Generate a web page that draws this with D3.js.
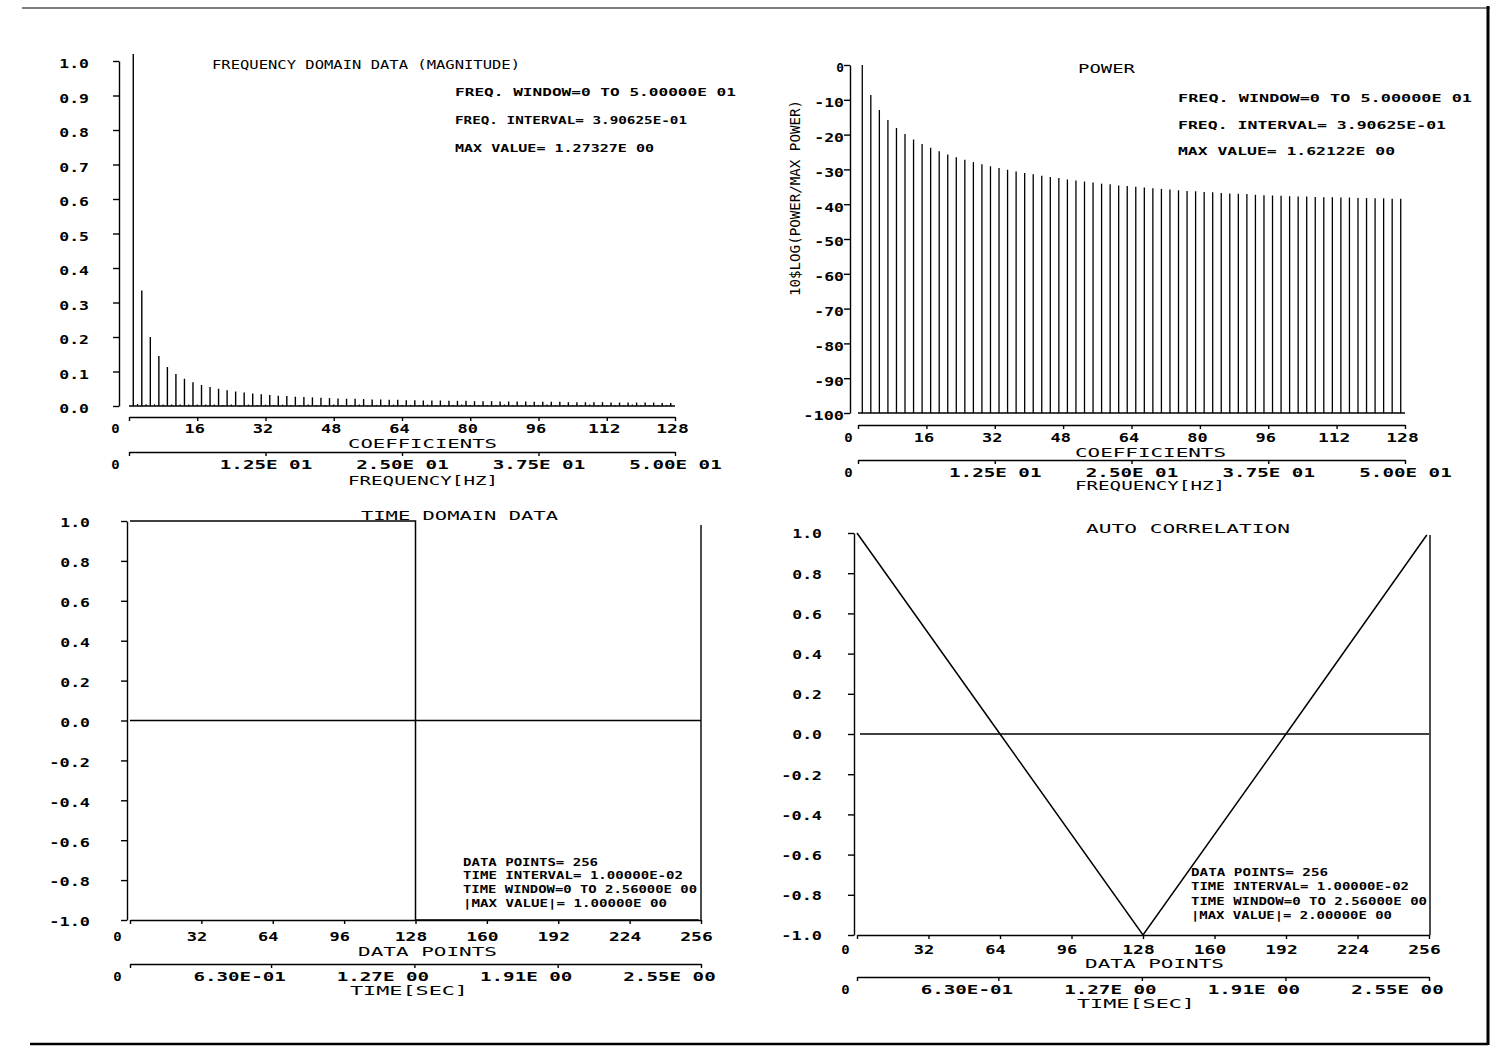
<!DOCTYPE html>
<html><head><meta charset="utf-8">
<script src="https://cdn.jsdelivr.net/npm/d3@7"></script>
<style>
body{margin:0;background:#fff}
text{font-family:"DejaVu Sans Mono","Liberation Mono",monospace;fill:#000}
</style>
</head><body><script>
// ---------------- DATA ----------------
// Frequency-domain magnitude (normalised), odd coefficients k = 1,3,...,127
const magOddK = d3.range(1, 128, 2);
const magOdd = [1.02,0.335,0.200,0.145,0.113,0.093,0.079,0.069,0.061,0.055,0.050,0.046,0.042,0.039,0.036,0.034,
                0.032,0.030,0.029,0.027,0.026,0.025,0.024,0.023,0.022,0.021,0.021,0.020,0.019,0.019,0.018,0.018,
                0.017,0.017,0.016,0.016,0.016,0.015,0.015,0.015,0.014,0.014,0.014,0.013,0.013,0.013,0.013,0.012,
                0.012,0.012,0.012,0.011,0.011,0.011,0.011,0.011,0.010,0.010,0.010,0.010,0.010,0.010,0.009,0.009];
// even coefficients k = 0,2,...,126 (near zero)
const magEvenK = d3.range(0, 128, 2);
const magEven = [0,0.006,0.005,0.005,0.004,0.004,0.004,0.004,0.004,0.004,0.004,0.003,0.004,0.003,0.004,0.003,
                 0.004,0.003,0.004,0.003,0.003,0.004,0.003,0.003,0.004,0.003,0.003,0.004,0.003,0.003,0.003,0.004,
                 0.003,0.003,0.003,0.004,0.003,0.003,0.003,0.004,0.003,0.003,0.003,0.003,0.004,0.003,0.003,0.003,
                 0.003,0.004,0.003,0.003,0.003,0.003,0.004,0.003,0.003,0.003,0.003,0.004,0.003,0.003,0.003,0.003];
// Power, 10*log(power/max power) in dB, odd coefficients
const powerDb = [0,-8.6,-12.9,-15.8,-18.1,-19.8,-21.4,-22.7,-23.8,-24.8,-25.7,-26.5,-27.2,-27.9,-28.5,-29.1,
                 -29.6,-30.1,-30.6,-31.0,-31.4,-31.8,-32.2,-32.5,-32.9,-33.2,-33.5,-33.8,-34.1,-34.3,-34.6,-34.8,
                 -35.0,-35.2,-35.4,-35.6,-35.8,-36.0,-36.2,-36.3,-36.5,-36.6,-36.8,-36.9,-37.0,-37.1,-37.3,-37.4,
                 -37.5,-37.6,-37.7,-37.8,-37.8,-37.9,-38.0,-38.0,-38.1,-38.1,-38.2,-38.2,-38.3,-38.3,-38.4,-38.4];
// Time domain square wave (step points)
const timeN = [0, 128, 255];
const timeV = [1.0, -1.0, -1.0];
// Auto correlation (vertices)
const acN = [0, 64, 128, 192, 255];
const acV = [1.0, 0.0, -1.0, 0.0, 0.99];

// ticks / labels
const magYTicks = [0,0.1,0.2,0.3,0.4,0.5,0.6,0.7,0.8,0.9,1.0];
const powYTicks = [0,-10,-20,-30,-40,-50,-60,-70,-80,-90,-100];
const timeYTicks = [1.0,0.8,0.6,0.4,0.2,0.0,-0.2,-0.4,-0.6,-0.8,-1.0];
const coefTicks = [0,16,32,48,64,80,96,112,128];
const freqTicks = [0,12.5,25,37.5,50];
const freqTickLabels = ["0","1.25E 01","2.50E 01","3.75E 01","5.00E 01"];
const pointTicks = [0,32,64,96,128,160,192,224,256];
const timeTicks = [0,0.63,1.27,1.91,2.55];
const timeTickLabels = ["0","6.30E-01","1.27E 00","1.91E 00","2.55E 00"];

const tlNotes = ["FREQ. WINDOW=0 TO 5.00000E 01","FREQ. INTERVAL= 3.90625E-01","MAX VALUE= 1.27327E 00"];
const trNotes = ["FREQ. WINDOW=0 TO 5.00000E 01","FREQ. INTERVAL= 3.90625E-01","MAX VALUE= 1.62122E 00"];
const blNotes = ["DATA POINTS= 256","TIME INTERVAL= 1.00000E-02","TIME WINDOW=0 TO 2.56000E 00","|MAX VALUE|= 1.00000E 00"];
const brNotes = ["DATA POINTS= 256","TIME INTERVAL= 1.00000E-02","TIME WINDOW=0 TO 2.56000E 00","|MAX VALUE|= 2.00000E 00"];

// ---------------- DRAW ----------------
const W = 1494, H = 1049;
const FONT = '"DejaVu Sans Mono","Liberation Mono",monospace';
const svg = d3.select("body").append("svg").attr("width", W).attr("height", H);

function fit(sel, cell) {
  sel.attr("lengthAdjust", "spacingAndGlyphs")
     .attr("textLength", function(){ const n = this.textContent.length; return n*cell - cell*0.3; });
}
function label(str, x1, x2, yc, size, weight) {
  return svg.append("text").attr("x", x1).attr("y", yc).attr("dy", "0.36em")
    .attr("font-size", size).attr("font-weight", weight || "normal")
    .attr("textLength", x2 - x1).attr("lengthAdjust", "spacingAndGlyphs").text(str);
}
function styleAxis(g) {
  g.attr("font-family", FONT).attr("font-size", 12).attr("font-weight", "bold");
  g.select(".domain").attr("stroke", "#000").attr("stroke-width", 1.4);
  g.selectAll(".tick line").attr("stroke", "#000").attr("stroke-width", 1.4);
  g.selectAll(".tick text").attr("fill", "#000");
}
function yAxis(x, scale, ticks, fmt, pad, dyPx, cell) {
  const g = svg.append("g").attr("transform", `translate(${x},0)`)
    .call(d3.axisLeft(scale).tickValues(ticks).tickFormat(fmt).tickSize(6).tickSizeOuter(0).tickPadding(pad));
  styleAxis(g);
  g.selectAll(".tick text").attr("y", dyPx);
  fit(g.selectAll(".tick text"), cell);
  return g;
}
function xAxis(y, scale, ticks, fmt, labelOff, dx, zeroX, cell) {
  const g = svg.append("g").attr("transform", `translate(0,${y})`)
    .call(d3.axisBottom(scale).tickValues(ticks).tickFormat(fmt).tickSize(4).tickSizeOuter(0).tickPadding(0));
  styleAxis(g);
  g.selectAll(".tick text").attr("y", labelOff).attr("dy", "0.36em")
    .attr("dx", (d, i) => i === 0 ? (zeroX - scale(d)) : dx);
  fit(g.selectAll(".tick text"), cell);
  return g;
}
function notes(lines, x, ys, widths, size, weight) {
  lines.forEach((s, i) => label(s, x, x + widths[i], ys[i], size, weight));
}
function hline(x1, x2, y, w) { svg.append("line").attr("x1", x1).attr("x2", x2).attr("y1", y).attr("y2", y).attr("stroke", "#000").attr("stroke-width", w || 1.4); }
function vline(x, y1, y2, w) { svg.append("line").attr("x1", x).attr("x2", x).attr("y1", y1).attr("y2", y2).attr("stroke", "#000").attr("stroke-width", w || 1.4); }

const f1 = d => d.toFixed(1);

// ===== Panel TL: magnitude =====
{
  const x = d3.scaleLinear().domain([0, 128]).range([129, 675]);
  const xf = d3.scaleLinear().domain([0, 50]).range([129, 675]);
  const y = d3.scaleLinear().domain([0, 1]).range([406, 61]);
  yAxis(119, y, magYTicks, f1, 24, 3, 11);
  hline(x(0), x(128), y(0), 1.6);
  svg.append("g").selectAll("line").data(magOddK).join("line")
    .attr("x1", d => x(d)).attr("x2", d => x(d)).attr("y1", y(0)).attr("y2", (d, i) => y(magOdd[i]))
    .attr("stroke", "#000").attr("stroke-width", 1.4);
  svg.append("g").selectAll("line").data(magEvenK).join("line")
    .attr("x1", d => x(d)).attr("x2", d => x(d)).attr("y1", y(0)).attr("y2", (d, i) => y(magEven[i]))
    .attr("stroke", "#000").attr("stroke-width", 1.2);
  xAxis(417, x, coefTicks, d => String(d), 12, -3, 115, 12);
  label("COEFFICIENTS", 348, 497, 443, 13);
  xAxis(452, xf, freqTicks, (d, i) => freqTickLabels[i], 13, 0, 115, 12);
  label("FREQUENCY[HZ]", 348, 498, 480, 13);
  label("FREQUENCY DOMAIN DATA (MAGNITUDE)", 212, 520, 64, 13);
  notes(tlNotes, 455, [92, 120, 148], [281, 232, 199], 11, "bold");
}

// ===== Panel TR: power =====
{
  const x = d3.scaleLinear().domain([0, 128]).range([858, 1405]);
  const xf = d3.scaleLinear().domain([0, 50]).range([858, 1405]);
  const y = d3.scaleLinear().domain([-100, 0]).range([413, 65]);
  yAxis(850, y, powYTicks, d => String(d), 0, 3, 11);
  hline(x(0), x(128), y(-100), 1.6);
  svg.append("g").selectAll("line").data(magOddK).join("line")
    .attr("x1", d => x(d)).attr("x2", d => x(d)).attr("y1", y(-100)).attr("y2", (d, i) => y(powerDb[i]))
    .attr("stroke", "#000").attr("stroke-width", 1.3);
  xAxis(425, x, coefTicks, d => String(d), 13, -3, 848, 12);
  label("COEFFICIENTS", 1075, 1226, 452, 13);
  xAxis(460, xf, freqTicks, (d, i) => freqTickLabels[i], 13, 0, 848, 12);
  label("FREQUENCY[HZ]", 1075, 1225, 485, 13);
  label("POWER", 1078, 1135, 68, 13);
  notes(trNotes, 1178, [98, 125, 151], [294, 268, 217], 11, "bold");
  svg.append("text").attr("transform", "translate(795,296) rotate(-90)")
    .attr("dy", "0.36em").attr("font-size", 14)
    .attr("textLength", 196).attr("lengthAdjust", "spacingAndGlyphs")
    .text("10$LOG(POWER/MAX POWER)");
}

// ===== Panel BL: time domain =====
{
  const x = d3.scaleLinear().domain([0, 256]).range([130, 701]);
  const xt = d3.scaleLinear().domain([0, 2.55]).range([130, 701]);
  const y = d3.scaleLinear().domain([-1, 1]).range([920, 521]);
  yAxis(127, y, timeYTicks, f1, 31, 2, 11);
  hline(x(0), x(256), y(0), 1.3);
  vline(701, 525, y(-1), 1.4);
  const line = d3.line().x(d => x(d[0])).y(d => y(d[1])).curve(d3.curveStepAfter);
  svg.append("path").attr("d", line(timeN.map((n, i) => [n, timeV[i]])))
    .attr("fill", "none").attr("stroke", "#000").attr("stroke-width", 1.5);
  xAxis(y(-1), x, pointTicks, d => String(d), 17, -5, 117, 12);
  label("DATA POINTS", 358, 497, 951, 13);
  xAxis(964, xt, timeTicks, (d, i) => timeTickLabels[i], 13, -32, 117, 12);
  label("TIME[SEC]", 350, 468, 990, 13);
  label("TIME DOMAIN DATA", 361, 558, 515, 13);
  notes(blNotes, 463, [862, 875, 889, 903], [135, 220, 234, 204], 10, "bold");
}

// ===== Panel BR: auto correlation =====
{
  const x = d3.scaleLinear().domain([0, 256]).range([857, 1429]);
  const xt = d3.scaleLinear().domain([0, 2.55]).range([857, 1429]);
  const y = d3.scaleLinear().domain([-1, 1]).range([935, 533]);
  yAxis(854, y, timeYTicks, f1, 26, 1, 11);
  hline(x(0) + 3, x(256), y(0), 1.3);
  vline(1430, 535, y(-1), 1.4);
  const line = d3.line().x(d => x(d[0])).y(d => y(d[1]));
  svg.append("path").attr("d", line(acN.map((n, i) => [n, acV[i]])))
    .attr("fill", "none").attr("stroke", "#000").attr("stroke-width", 1.5);
  xAxis(y(-1), x, pointTicks, d => String(d), 15, -5, 845, 12);
  label("DATA POINTS", 1085, 1224, 963, 13);
  xAxis(977, xt, timeTicks, (d, i) => timeTickLabels[i], 13, -32, 845, 12);
  label("TIME[SEC]", 1077, 1195, 1003, 13);
  label("AUTO CORRELATION", 1086, 1290, 528, 13);
  notes(brNotes, 1191, [872, 886, 901, 915], [137, 218, 236, 201], 10, "bold");
}

// page border
hline(22, 1490, 8, 1.2);
vline(1488, 6, 1045, 3);
hline(30, 1488, 1044, 2.5);
</script></body></html>
